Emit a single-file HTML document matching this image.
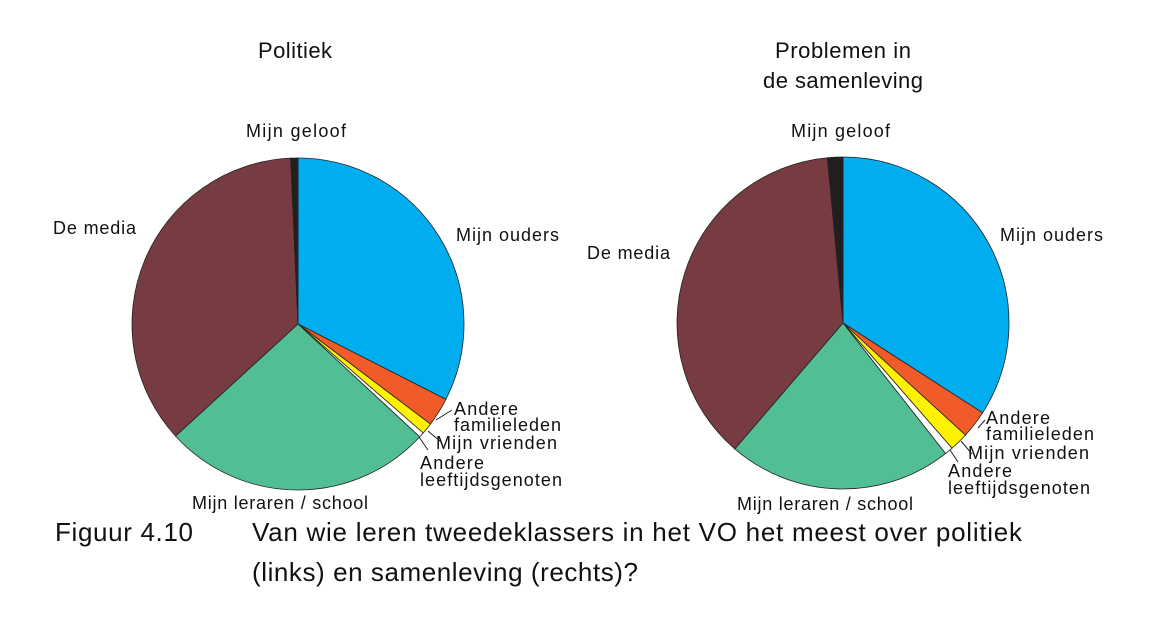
<!DOCTYPE html>
<html><head><meta charset="utf-8"><style>
body{margin:0;background:#fff;width:1154px;height:616px;overflow:hidden;font-family:"Liberation Sans",sans-serif}
svg text{font-family:"Liberation Sans",sans-serif;fill:#111}
</style></head><body>
<svg width="1154" height="616">
<g id="p1"></g>
<g id="p2"></g>
<text x="295" y="58" font-size="22" text-anchor="middle" textLength="74">Politiek</text>
<text x="843" y="58" font-size="22" text-anchor="middle" textLength="136">Problemen in</text>
<text x="843" y="88" font-size="22" text-anchor="middle" textLength="160">de samenleving</text>
<g font-size="18">
<text x="246" y="137" textLength="100">Mijn geloof</text>
<text x="53" y="234" textLength="83">De media</text>
<text x="456" y="241" textLength="103">Mijn ouders</text>
<text x="454" y="415" textLength="64">Andere</text><text x="454" y="431" textLength="107">familieleden</text>
<text x="436" y="449" textLength="121">Mijn vrienden</text>
<text x="420" y="469" textLength="64">Andere</text><text x="420" y="486" textLength="142">leeftijdsgenoten</text>
<text x="192" y="509" textLength="176">Mijn leraren / school</text>
</g>
<g font-size="18">
<text x="791" y="137" textLength="99">Mijn geloof</text>
<text x="587" y="259" textLength="83">De media</text>
<text x="1000" y="241" textLength="103">Mijn ouders</text>
<text x="986" y="424" textLength="64">Andere</text><text x="986" y="440" textLength="108">familieleden</text>
<text x="968" y="459" textLength="121">Mijn vrienden</text>
<text x="948" y="477" textLength="64">Andere</text><text x="948" y="494" textLength="142">leeftijdsgenoten</text>
<text x="737" y="510" textLength="176">Mijn leraren / school</text>
</g>
<g stroke="#222" stroke-width="1">
<line x1="436" y1="420" x2="452" y2="410"/><line x1="428" y1="431" x2="441" y2="442"/><line x1="419" y1="437" x2="428" y2="450"/>
<line x1="978" y1="428" x2="985" y2="420"/><line x1="961" y1="441" x2="972" y2="454"/><line x1="950" y1="450" x2="958" y2="462"/>
</g>
<text x="55" y="541" font-size="26" textLength="138">Figuur 4.10</text>
<text x="252" y="541" font-size="26" textLength="770">Van wie leren tweedeklassers in het VO het meest over politiek</text>
<text x="252" y="581" font-size="26" textLength="386">(links) en samenleving (rechts)?</text>
</svg>
<script>
const categories=["Mijn ouders","Andere familieleden","Mijn vrienden","Andere leeftijdsgenoten","Mijn leraren / school","De media","Mijn geloof"];
const colors=["#00aeef","#f15a29","#fff200","#ffffff","#52be94","#773c41","#231f20"];
const politiek=[32.5,2.8,1.1,0.5,26.3,36.1,0.7];
const samenleving=[34.1,2.7,1.8,0.8,21.9,37.2,1.5];
function draw(id,vals,cx,cy,r){
 const g=document.getElementById(id);const tot=vals.reduce((a,b)=>a+b,0);let a=0;
 vals.forEach((v,i)=>{
  const a0=a/tot*2*Math.PI,a1=(a+v)/tot*2*Math.PI;a+=v;
  const x0=cx+r*Math.sin(a0),y0=cy-r*Math.cos(a0),x1=cx+r*Math.sin(a1),y1=cy-r*Math.cos(a1);
  const p=document.createElementNS("http://www.w3.org/2000/svg","path");
  p.setAttribute("d",`M${cx},${cy}L${x0},${y0}A${r},${r} 0 ${a1-a0>Math.PI?1:0} 1 ${x1},${y1}Z`);
  p.setAttribute("fill",colors[i]);p.setAttribute("stroke","#222");p.setAttribute("stroke-width","0.8");
  
  
  g.appendChild(p);
 });
}
draw("p1",politiek,298,324,166);
draw("p2",samenleving,843,323,166);
</script>
</body></html>
